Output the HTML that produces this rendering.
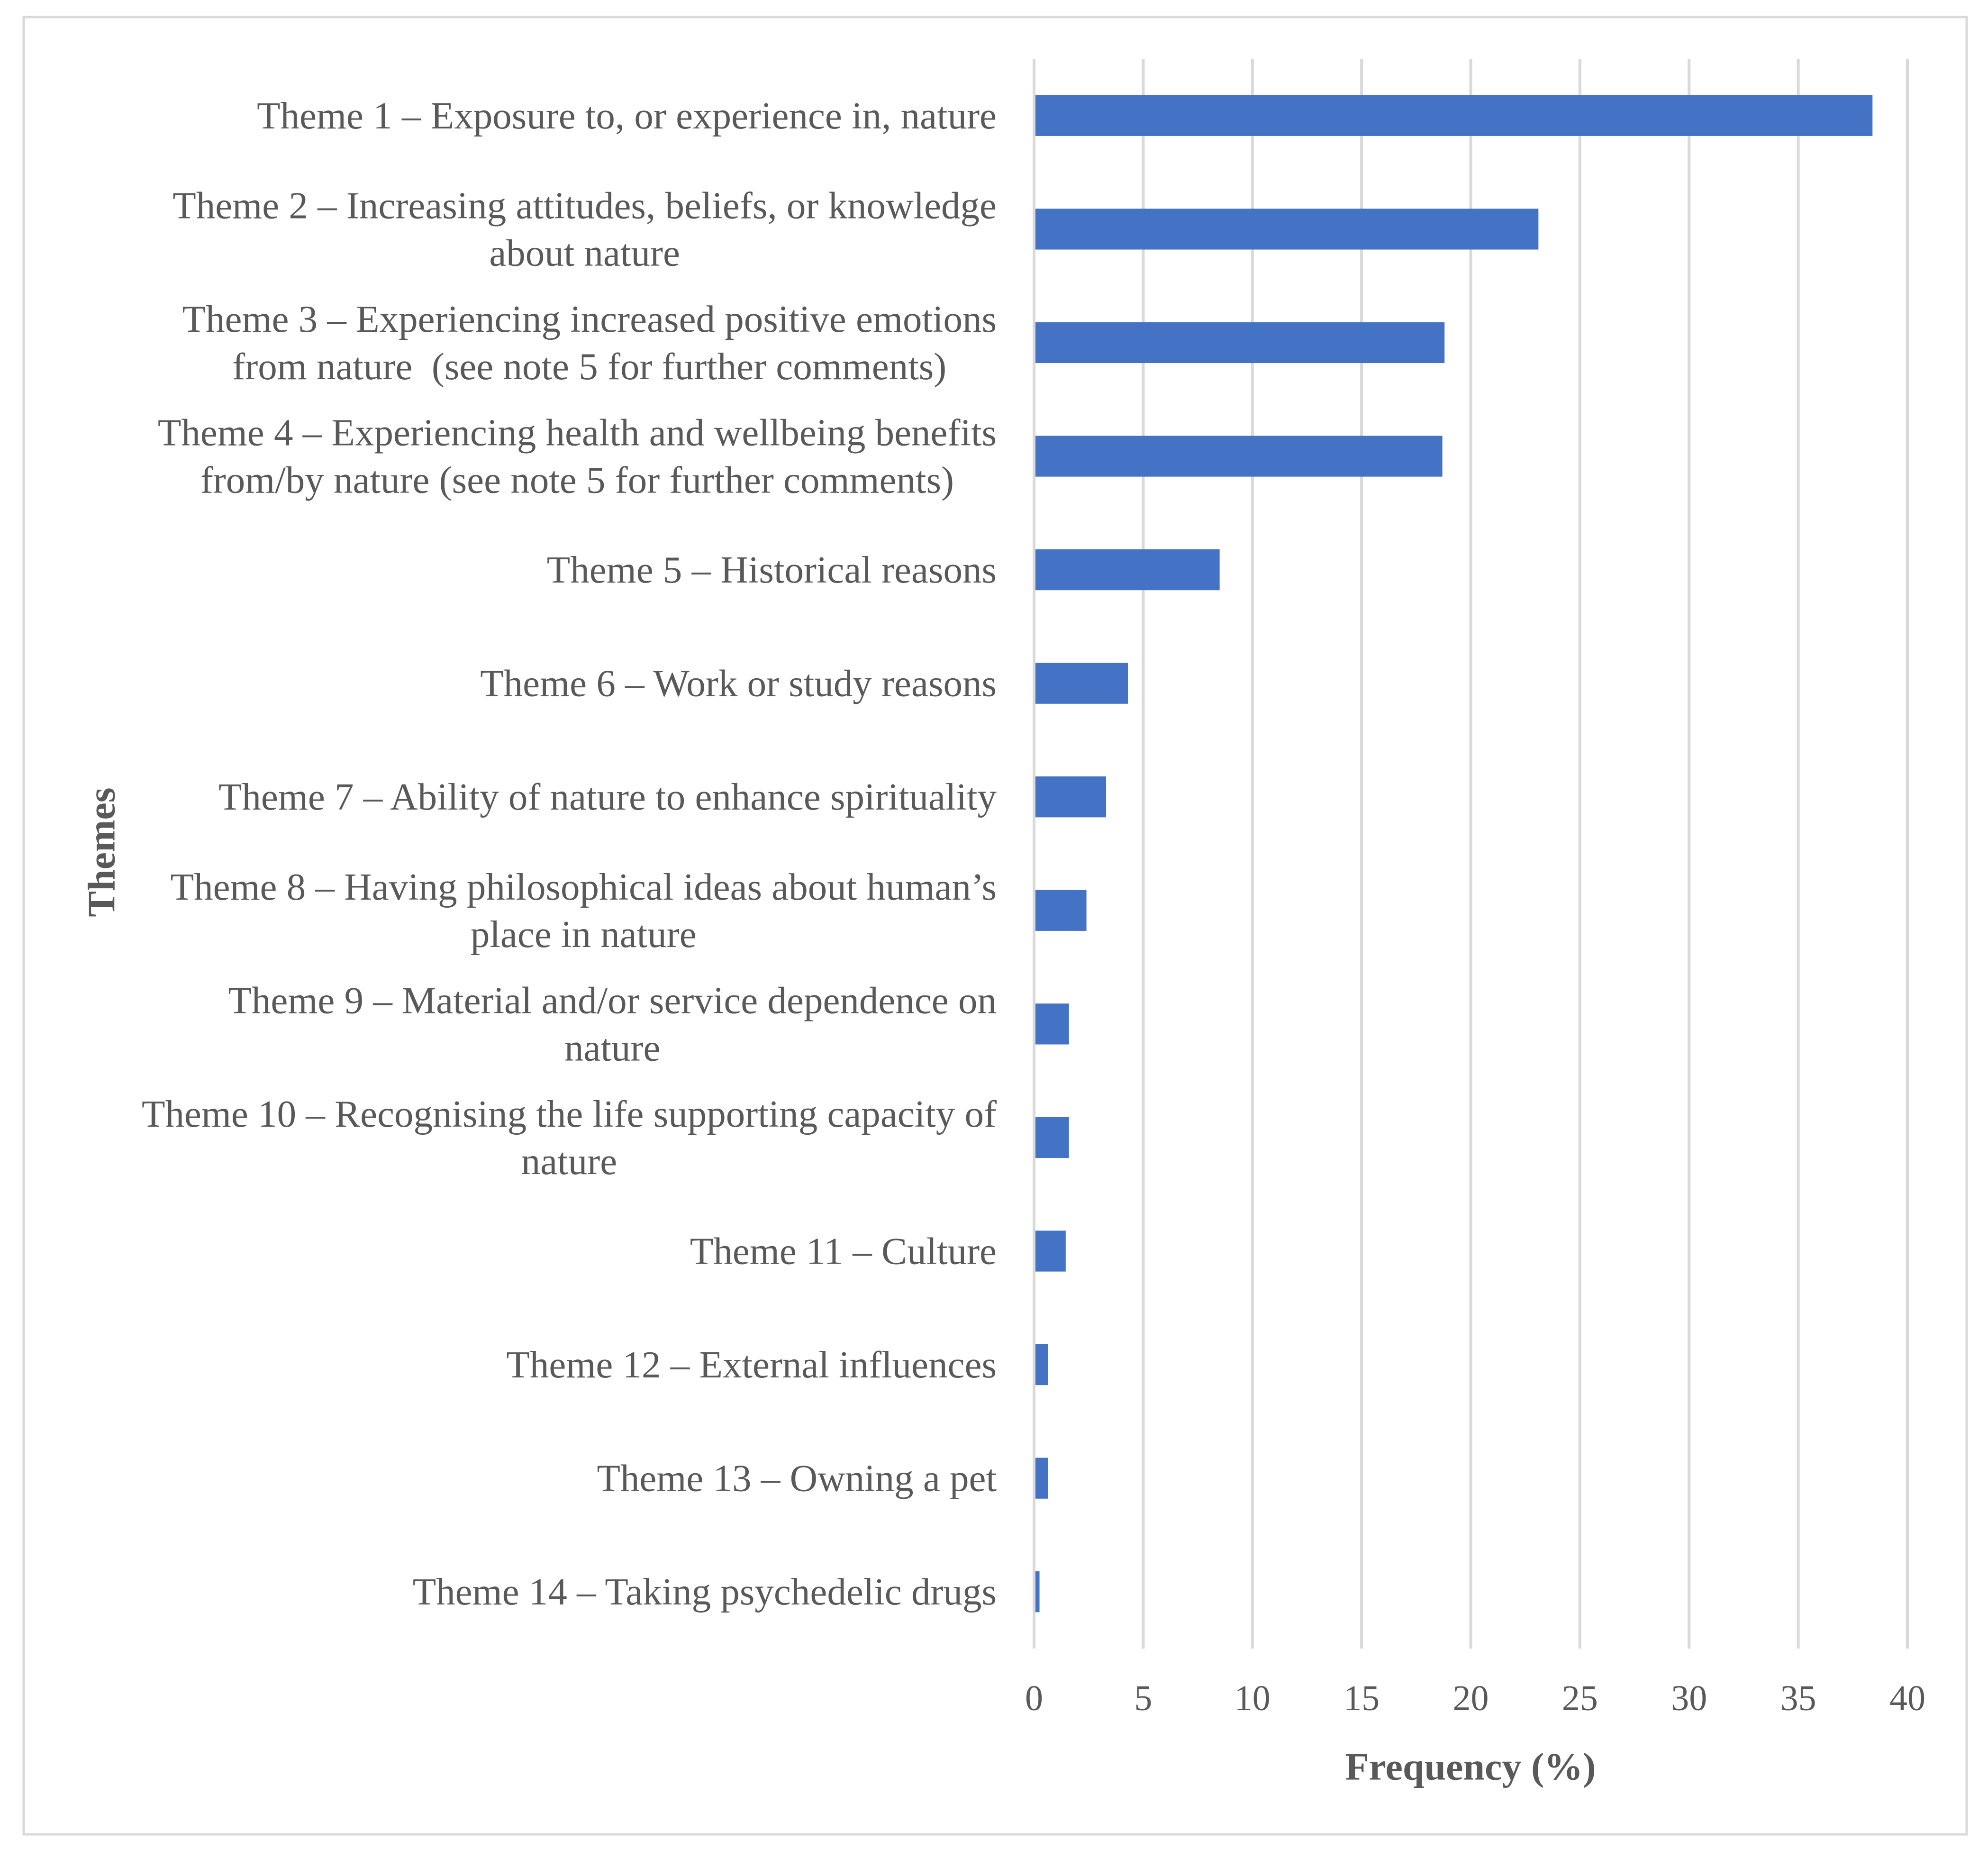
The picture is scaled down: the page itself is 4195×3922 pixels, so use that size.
<!DOCTYPE html>
<html><head><meta charset="utf-8"><style>
html,body{margin:0;padding:0;background:#fff;}
svg{display:block;}
text{font-family:"Liberation Serif",serif;fill:#595959;}
</style></head><body>
<svg id="chart" width="4195" height="3922" viewBox="0 0 4195 3922" xmlns="http://www.w3.org/2000/svg">
<rect x="50" y="36" width="4100" height="3834" fill="#fff" stroke="#d9d9d9" stroke-width="5"/>
<g id="grid"></g>
<g id="bars"></g>
<g id="ylabels"></g>
<g id="xticks"></g>
<text x="3103" y="3727" text-anchor="middle" dominant-baseline="central" font-size="82" font-weight="bold">Frequency (%)</text>
<text transform="translate(214,1798) rotate(-90)" text-anchor="middle" dominant-baseline="central" font-size="82" font-weight="bold">Themes</text>
</svg>
<script>
const categories = [
 ["Theme 1 – Exposure to, or experience in, nature"],
 ["Theme 2 – Increasing attitudes, beliefs, or knowledge","about nature"],
 ["Theme 3 – Experiencing increased positive emotions","from nature \u00a0(see note 5 for further comments)"],
 ["Theme 4 – Experiencing health and wellbeing benefits","from/by nature (see note 5 for further comments)"],
 ["Theme 5 – Historical reasons"],
 ["Theme 6 – Work or study reasons"],
 ["Theme 7 – Ability of nature to enhance spirituality"],
 ["Theme 8 – Having philosophical ideas about human’s","place in nature"],
 ["Theme 9 – Material and/or service dependence on","nature"],
 ["Theme 10 – Recognising the life supporting capacity of","nature"],
 ["Theme 11 – Culture"],
 ["Theme 12 – External influences"],
 ["Theme 13 – Owning a pet"],
 ["Theme 14 – Taking psychedelic drugs"]
];
const values = [38.4, 23.1, 18.8, 18.7, 8.5, 4.3, 3.3, 2.4, 1.6, 1.6, 1.45, 0.65, 0.65, 0.25];
const xTicks = [0,5,10,15,20,25,30,35,40];

const NS="http://www.w3.org/2000/svg";
const X0=2182, X1=4025, XMAX=40, YT=124, YB=3478, LABEL_R=2103, FS=81;
const band=(YB-YT)/categories.length;
function xs(v){return X0+(v/XMAX)*(X1-X0);}
function yc(i){return YT+band*(i+0.5);}
function mk(tag,attrs,parent){const e=document.createElementNS(NS,tag);for(const k in attrs)e.setAttribute(k,attrs[k]);parent.appendChild(e);return e;}

const grid=document.getElementById('grid'), bars=document.getElementById('bars'), yl=document.getElementById('ylabels'), xt=document.getElementById('xticks');
xTicks.forEach(t=>{
  const l=mk('line',{x1:xs(t),x2:xs(t),y1:YT,y2:YB,stroke:'#d9d9d9','stroke-width':6},grid);
  
  
  const tx=mk('text',{x:xs(t),y:3583,'text-anchor':'middle','dominant-baseline':'central','font-size':76},xt);
  tx.textContent=t;
  
  
});
const bh=band*0.36;
values.forEach((v,i)=>{
  const r=mk('rect',{x:xs(0)+3,y:yc(i)-bh/2,width:Math.max(0,xs(v)-xs(0)-3),height:bh,fill:'#4472c4'},bars);
  
  
});
categories.forEach((lines,i)=>{
  const c=yc(i);
  const g=mk('g',{},yl);
  
  
  if(lines.length===1){
    const t=mk('text',{x:LABEL_R,y:c,'text-anchor':'end','dominant-baseline':'central','font-size':FS},g);
    t.textContent=lines[0];
  } else {
    const ts=lines.map((s,k)=>{const t=mk('text',{x:LABEL_R,y:c+(k===0?-50:50),'text-anchor':'middle','dominant-baseline':'central','font-size':FS},g);t.textContent=s;return t;});
    const w=Math.max(...ts.map(t=>t.getComputedTextLength()));
    ts.forEach(t=>t.setAttribute('x',LABEL_R-w/2));
  }
});
</script>
</body></html>
